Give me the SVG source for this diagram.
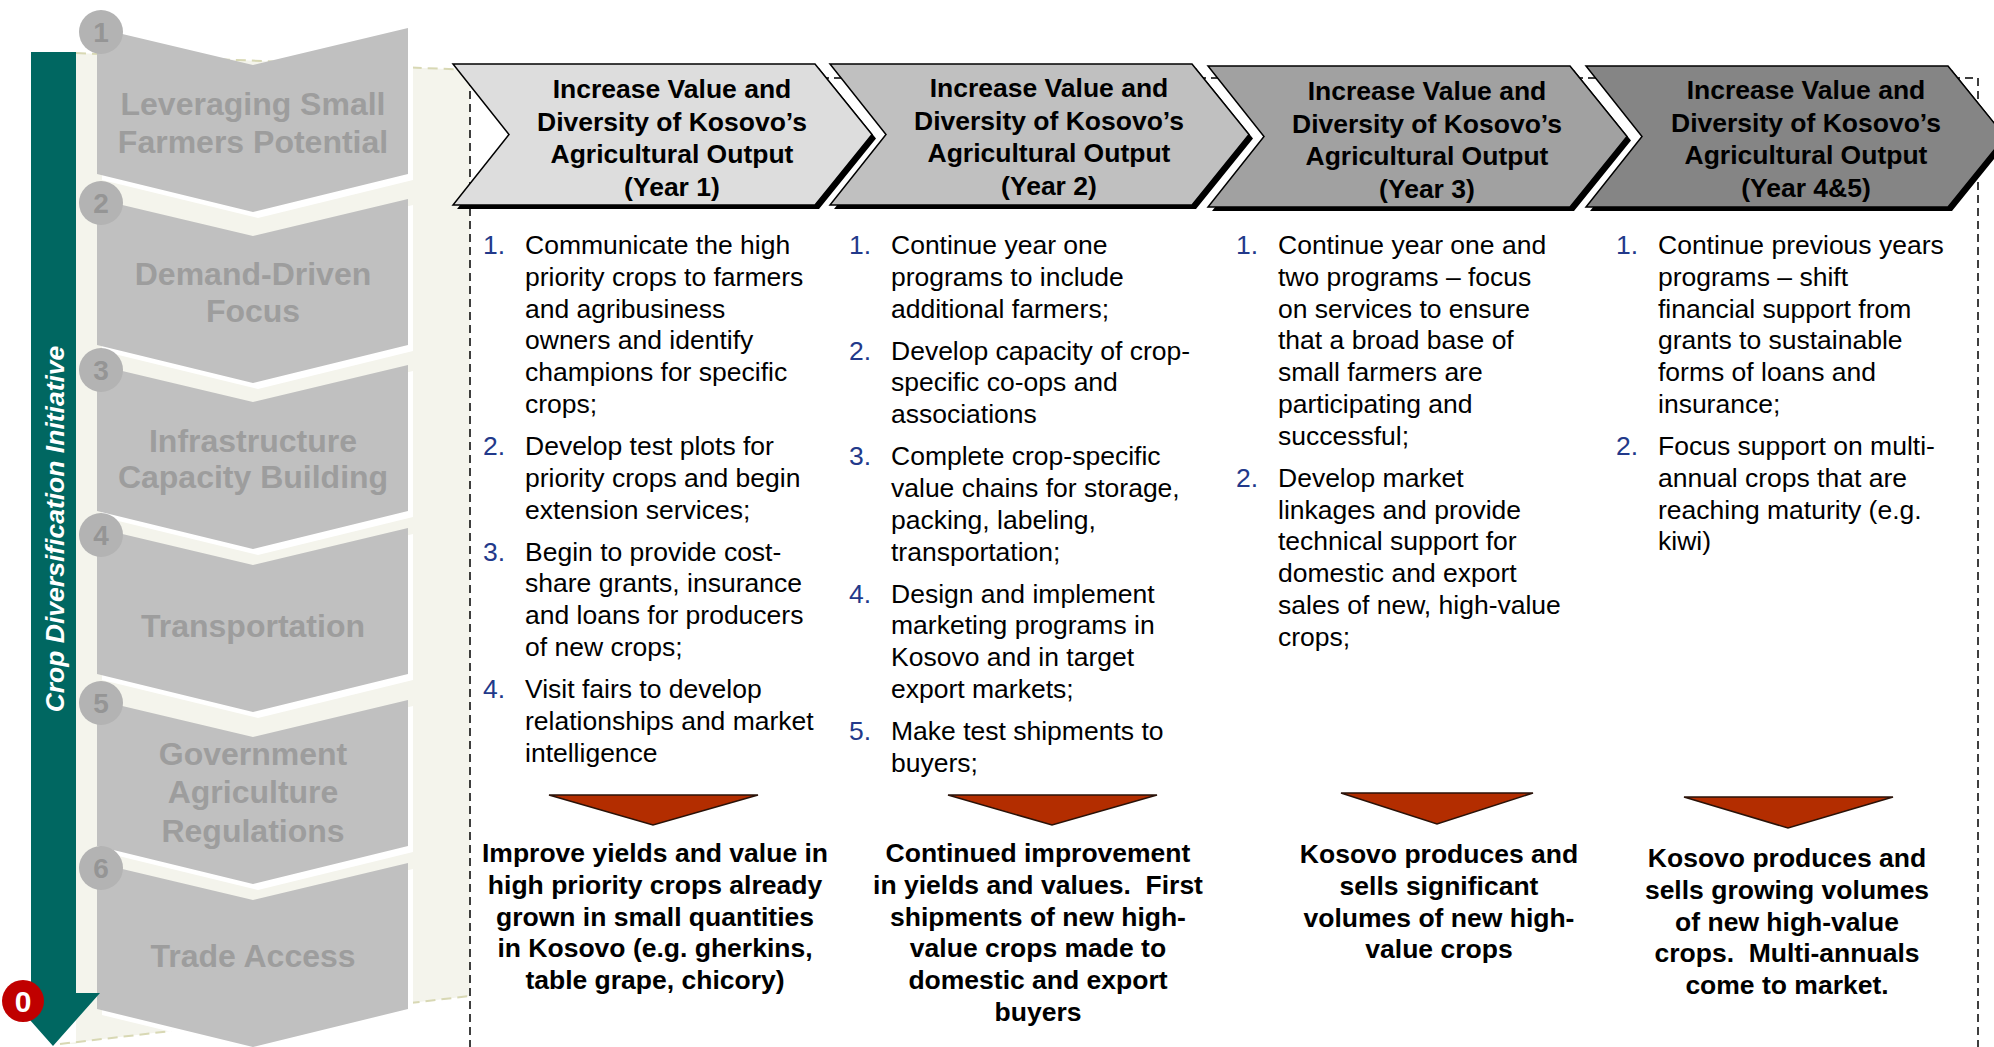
<svg xmlns="http://www.w3.org/2000/svg" width="1994" height="1047" viewBox="0 0 1994 1047">
<style>
.hdr{font-family:"Liberation Sans",Arial,sans-serif;font-weight:bold;font-size:26.5px;text-anchor:middle;fill:#000}
.body{font-family:"Liberation Sans",Arial,sans-serif;font-size:26.5px;fill:#000}
.num{fill:#22398A}
.out{font-family:"Liberation Sans",Arial,sans-serif;font-weight:bold;font-size:26.5px;text-anchor:middle;fill:#000}
.lbl{font-family:"Liberation Sans",Arial,sans-serif;font-weight:bold;font-size:32px;text-anchor:middle;fill:#9D9D9D}
.circ{fill:#B3B3B3}
.cnum{font-family:"Liberation Sans",Arial,sans-serif;font-weight:bold;font-size:28px;text-anchor:middle;fill:#959595}
.step{fill:#C0C0C0}
.stepw{fill:#FFFFFF}
.shadow{fill:#000}
.chev{stroke:#000;stroke-width:1.5}
.tri{fill:#B32D00;stroke:#2a1208;stroke-width:1.5;stroke-linejoin:miter}
.dash{fill:none;stroke:#000;stroke-width:1.5;stroke-dasharray:8 5}
.kdash{fill:none;stroke:#D8D8B4;stroke-width:2;stroke-dasharray:10 6}
</style>
<defs>
<polygon id="step" points="97,0 253,37 408,0 408,146 253,184 97,146"/>
<polygon id="hchev" points="0,0 362,0 419,70.5 362,141 0,141 56,70.5"/>
</defs>
<rect width="1994" height="1047" fill="#fff"/>

<!-- background panel -->
<g id="background">
<polygon points="76,53 470,70 470,996 60,1044 76,1044" fill="#F4F4EC"/>
<line x1="76" y1="53" x2="470" y2="70" class="kdash"/>
<line x1="60" y1="1044" x2="470" y2="996" class="kdash"/>
<path d="M470,78 V1047 M470,78 H1978 V1047" class="dash"/>
</g>

<!-- left steps -->
<g id="step1">
<use href="#step" y="28" transform="translate(5,6)" class="stepw"/>
<use href="#step" y="28" class="step"/>
<circle cx="101" cy="32" r="22" class="circ"/>
<text x="101" y="42" class="cnum">1</text>
<text class="lbl"><tspan x="253" y="115">Leveraging Small</tspan><tspan x="253" y="153">Farmers Potential</tspan></text>
</g>
<g id="step2">
<use href="#step" y="199" transform="translate(5,6)" class="stepw"/>
<use href="#step" y="199" class="step"/>
<circle cx="101" cy="203" r="22" class="circ"/>
<text x="101" y="213" class="cnum">2</text>
<text class="lbl"><tspan x="253" y="285">Demand-Driven</tspan><tspan x="253" y="322">Focus</tspan></text>
</g>
<g id="step3">
<use href="#step" y="365" transform="translate(5,6)" class="stepw"/>
<use href="#step" y="365" class="step"/>
<circle cx="101" cy="370" r="22" class="circ"/>
<text x="101" y="380" class="cnum">3</text>
<text class="lbl"><tspan x="253" y="452">Infrastructure</tspan><tspan x="253" y="488">Capacity Building</tspan></text>
</g>
<g id="step4">
<use href="#step" y="528" transform="translate(5,6)" class="stepw"/>
<use href="#step" y="528" class="step"/>
<circle cx="101" cy="535" r="22" class="circ"/>
<text x="101" y="545" class="cnum">4</text>
<text class="lbl"><tspan x="253" y="637">Transportation</tspan></text>
</g>
<g id="step5">
<use href="#step" y="700" transform="translate(5,6)" class="stepw"/>
<use href="#step" y="700" class="step"/>
<circle cx="101" cy="703" r="22" class="circ"/>
<text x="101" y="713" class="cnum">5</text>
<text class="lbl"><tspan x="253" y="765">Government</tspan><tspan x="253" y="803">Agriculture</tspan><tspan x="253" y="842">Regulations</tspan></text>
</g>
<g id="step6">
<use href="#step" y="863" transform="translate(5,6)" class="stepw"/>
<use href="#step" y="863" class="step"/>
<circle cx="101" cy="868" r="22" class="circ"/>
<text x="101" y="878" class="cnum">6</text>
<text class="lbl"><tspan x="253" y="967">Trade Access</tspan></text>
</g>

<!-- vertical initiative arrow -->
<g id="initiative">
<polygon points="31,52 76,52 76,993 100,993 53,1046 6,993 31,993" fill="#006761"/>
<text transform="translate(63.5,529) rotate(-90)" font-family="Liberation Sans, Arial, sans-serif" font-weight="bold" font-style="italic" font-size="26.5" fill="#fff" text-anchor="middle">Crop Diversification Initiative</text>
<circle cx="23" cy="1001" r="21" fill="#C00000"/>
<text x="23" y="1012" font-family="Liberation Sans, Arial, sans-serif" font-weight="bold" font-size="30" fill="#fff" text-anchor="middle">0</text>
</g>

<!-- year headers -->
<g id="year1">
<use href="#hchev" x="457" y="68" class="shadow"/>
<use href="#hchev" x="453" y="64" class="chev" fill="#DDDDDD"/>
<text class="hdr"><tspan x="672" y="98">Increase Value and</tspan><tspan x="672" y="130.7">Diversity of Kosovo’s</tspan><tspan x="672" y="163.4">Agricultural Output</tspan><tspan x="672" y="196.1">(Year 1)</tspan></text>
</g>
<g id="year2">
<use href="#hchev" x="834" y="68" class="shadow"/>
<use href="#hchev" x="830" y="64" class="chev" fill="#C0C0C0"/>
<text class="hdr"><tspan x="1049" y="97">Increase Value and</tspan><tspan x="1049" y="129.7">Diversity of Kosovo’s</tspan><tspan x="1049" y="162.4">Agricultural Output</tspan><tspan x="1049" y="195.1">(Year 2)</tspan></text>
</g>
<g id="year3">
<use href="#hchev" x="1212" y="70" class="shadow"/>
<use href="#hchev" x="1208" y="66" class="chev" fill="#A1A1A1"/>
<text class="hdr"><tspan x="1427" y="100">Increase Value and</tspan><tspan x="1427" y="132.7">Diversity of Kosovo’s</tspan><tspan x="1427" y="165.4">Agricultural Output</tspan><tspan x="1427" y="198.1">(Year 3)</tspan></text>
</g>
<g id="year45">
<use href="#hchev" x="1590" y="70" class="shadow"/>
<use href="#hchev" x="1586" y="66" class="chev" fill="#858585"/>
<text class="hdr"><tspan x="1806" y="99">Increase Value and</tspan><tspan x="1806" y="131.7">Diversity of Kosovo’s</tspan><tspan x="1806" y="164.4">Agricultural Output</tspan><tspan x="1806" y="197.1">(Year 4&amp;5)</tspan></text>
</g>

<!-- action lists -->
<g id="actions1" class="body" transform="translate(0,1)">
<text class="num"><tspan x="483" y="253">1.</tspan><tspan x="483" y="454">2.</tspan><tspan x="483" y="559.6">3.</tspan><tspan x="483" y="697">4.</tspan></text>
<text><tspan x="525" y="253">Communicate the high</tspan><tspan x="525" y="284.8">priority crops to farmers</tspan><tspan x="525" y="316.6">and agribusiness</tspan><tspan x="525" y="348.4">owners and identify</tspan><tspan x="525" y="380.2">champions for specific</tspan><tspan x="525" y="412">crops;</tspan><tspan x="525" y="454">Develop test plots for</tspan><tspan x="525" y="485.8">priority crops and begin</tspan><tspan x="525" y="517.6">extension services;</tspan><tspan x="525" y="559.6">Begin to provide cost-</tspan><tspan x="525" y="591.4">share grants, insurance</tspan><tspan x="525" y="623.2">and loans for producers</tspan><tspan x="525" y="655">of new crops;</tspan><tspan x="525" y="697">Visit fairs to develop</tspan><tspan x="525" y="728.8">relationships and market</tspan><tspan x="525" y="760.6">intelligence</tspan></text>
</g>
<g id="actions2" class="body" transform="translate(0,1)">
<text class="num"><tspan x="849" y="253">1.</tspan><tspan x="849" y="358.6">2.</tspan><tspan x="849" y="464.2">3.</tspan><tspan x="849" y="601.6">4.</tspan><tspan x="849" y="739">5.</tspan></text>
<text><tspan x="891" y="253">Continue year one</tspan><tspan x="891" y="284.8">programs to include</tspan><tspan x="891" y="316.6">additional farmers;</tspan><tspan x="891" y="358.6">Develop capacity of crop-</tspan><tspan x="891" y="390.4">specific co-ops and</tspan><tspan x="891" y="422.2">associations</tspan><tspan x="891" y="464.2">Complete crop-specific</tspan><tspan x="891" y="496">value chains for storage,</tspan><tspan x="891" y="527.8">packing, labeling,</tspan><tspan x="891" y="559.6">transportation;</tspan><tspan x="891" y="601.6">Design and implement</tspan><tspan x="891" y="633.4">marketing programs in</tspan><tspan x="891" y="665.2">Kosovo and in target</tspan><tspan x="891" y="697">export markets;</tspan><tspan x="891" y="739">Make test shipments to</tspan><tspan x="891" y="770.8">buyers;</tspan></text>
</g>
<g id="actions3" class="body" transform="translate(0,1)">
<text class="num"><tspan x="1236" y="253">1.</tspan><tspan x="1236" y="485.8">2.</tspan></text>
<text><tspan x="1278" y="253">Continue year one and</tspan><tspan x="1278" y="284.8">two programs – focus</tspan><tspan x="1278" y="316.6">on services to ensure</tspan><tspan x="1278" y="348.4">that a broad base of</tspan><tspan x="1278" y="380.2">small farmers are</tspan><tspan x="1278" y="412">participating and</tspan><tspan x="1278" y="443.8">successful;</tspan><tspan x="1278" y="485.8">Develop market</tspan><tspan x="1278" y="517.6">linkages and provide</tspan><tspan x="1278" y="549.4">technical support for</tspan><tspan x="1278" y="581.2">domestic and export</tspan><tspan x="1278" y="613">sales of new, high-value</tspan><tspan x="1278" y="644.8">crops;</tspan></text>
</g>
<g id="actions4" class="body" transform="translate(0,1)">
<text class="num"><tspan x="1616" y="253">1.</tspan><tspan x="1616" y="454">2.</tspan></text>
<text><tspan x="1658" y="253">Continue previous years</tspan><tspan x="1658" y="284.8">programs – shift</tspan><tspan x="1658" y="316.6">financial support from</tspan><tspan x="1658" y="348.4">grants to sustainable</tspan><tspan x="1658" y="380.2">forms of loans and</tspan><tspan x="1658" y="412">insurance;</tspan><tspan x="1658" y="454">Focus support on multi-</tspan><tspan x="1658" y="485.8">annual crops that are</tspan><tspan x="1658" y="517.6">reaching maturity (e.g.</tspan><tspan x="1658" y="549.4">kiwi)</tspan></text>
</g>

<!-- connectors: result arrows -->
<g id="connectors">
<polygon class="tri" points="549,795 758,795 653,825"/>
<polygon class="tri" points="948,795 1157,795 1052,825"/>
<polygon class="tri" points="1341,793 1533,793 1437,824"/>
<polygon class="tri" points="1684,797 1893,797 1788,828"/>
</g>

<!-- outcomes -->
<g id="outcome1">
<text class="out"><tspan x="655" y="862">Improve yields and value in</tspan><tspan x="655" y="893.8">high priority crops already</tspan><tspan x="655" y="925.6">grown in small quantities</tspan><tspan x="655" y="957.4">in Kosovo (e.g. gherkins,</tspan><tspan x="655" y="989.2">table grape, chicory)</tspan></text>
</g>
<g id="outcome2">
<text class="out" xml:space="preserve"><tspan x="1038" y="862">Continued improvement</tspan><tspan x="1038" y="893.8">in yields and values.  First</tspan><tspan x="1038" y="925.6">shipments of new high-</tspan><tspan x="1038" y="957.4">value crops made to</tspan><tspan x="1038" y="989.2">domestic and export</tspan><tspan x="1038" y="1021">buyers</tspan></text>
</g>
<g id="outcome3">
<text class="out"><tspan x="1439" y="863">Kosovo produces and</tspan><tspan x="1439" y="894.8">sells significant</tspan><tspan x="1439" y="926.6">volumes of new high-</tspan><tspan x="1439" y="958.4">value crops</tspan></text>
</g>
<g id="outcome4">
<text class="out" xml:space="preserve"><tspan x="1787" y="867">Kosovo produces and</tspan><tspan x="1787" y="898.8">sells growing volumes</tspan><tspan x="1787" y="930.6">of new high-value</tspan><tspan x="1787" y="962.4">crops.  Multi-annuals</tspan><tspan x="1787" y="994.2">come to market.</tspan></text>
</g>
</svg>
